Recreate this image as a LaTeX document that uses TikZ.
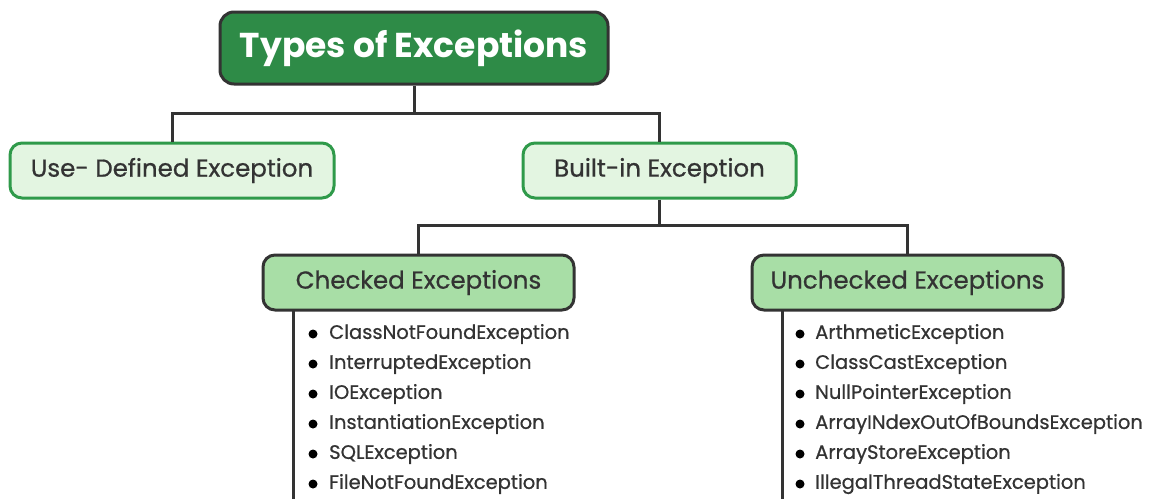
\documentclass[tikz,border=0pt]{standalone}
\usepackage{fontspec}
\setmainfont{Poppins}
\newfontfamily\medfont[FakeBold=0.7]{Poppins}
\definecolor{dkgreen}{HTML}{2E8B47}
\definecolor{ltfill}{HTML}{E3F5E1}
\definecolor{ltborder}{HTML}{2F9A4A}
\definecolor{midfill}{HTML}{A8DEA6}
\definecolor{ink}{HTML}{333333}
\begin{document}
\begin{tikzpicture}[x=1pt,y=-1pt,
  topbox/.style={draw=ink,line width=3pt,fill=dkgreen,rounded corners=14pt,text=white,font=\bfseries\fontsize{34.5}{38}\selectfont},
  lvlbox/.style={draw=ltborder,line width=3pt,fill=ltfill,rounded corners=12pt,text=ink,font=\medfont\fontsize{24.5}{28}\selectfont},
  subbox/.style={draw=ink,line width=3pt,fill=midfill,rounded corners=12pt,text=ink,font=\medfont\fontsize{24.5}{28}\selectfont},
  conn/.style={draw=ink,line width=3pt},
  item/.style={anchor=west,text=ink,inner sep=0pt,font=\medfont\fontsize{19.5}{22}\selectfont},
  dot/.style={circle,fill=black,inner sep=0pt,minimum size=9pt}]
\useasboundingbox (0,0) rectangle (1158,499);
% boxes
\node[topbox,minimum width=388pt,minimum height=72pt] (top) at (414,48) {Types of Exceptions};
\node[lvlbox,minimum width=324pt,minimum height=55pt] (user) at (172,170.5) {Use- Defined Exception};
\node[lvlbox,minimum width=273pt,minimum height=55pt] (built) at (659.5,170.5) {Built-in Exception};
\node[subbox,minimum width=311pt,minimum height=55pt] (checked) at (418.5,282.5) {Checked Exceptions};
\node[subbox,minimum width=311pt,minimum height=55pt] (unchecked) at (907.5,282.5) {Unchecked Exceptions};
% connectors
\coordinate (j1) at (414,113);
\draw[conn] (top.south) -- (j1);
\draw[conn] (user.north) |- (j1) -| (built.north);
\coordinate (j2) at (659.5,225);
\draw[conn] (built.south) -- (j2);
\draw[conn] (checked.north) |- (j2) -| (unchecked.north);
% list stems
\coordinate (cs) at (293,310);
\coordinate (ce) at (293,499);
\coordinate (us) at (782,310);
\coordinate (ue) at (782,499);
\draw[conn] (cs) -- (ce);
\draw[conn] (us) -- (ue);
% checked items
\foreach \t [count=\i] in {ClassNotFoundException,InterruptedException,IOException,InstantiationException,SQLException,FileNotFoundException}{
  \node[dot] (cd\i) at (313,{334+30*(\i-1)}) {};
  \node[item] (ct\i) at (329,{334+30*(\i-1)}) {\t};
}
% unchecked items
\foreach \t [count=\i] in {ArthmeticException,ClassCastException,NullPointerException,ArrayINdexOutOfBoundsException,ArrayStoreException,IllegalThreadStateException}{
  \node[dot] (ud\i) at (800,{334+30*(\i-1)}) {};
  \node[item] (ut\i) at (815,{334+30*(\i-1)}) {\t};
}
\end{tikzpicture}
\end{document}
